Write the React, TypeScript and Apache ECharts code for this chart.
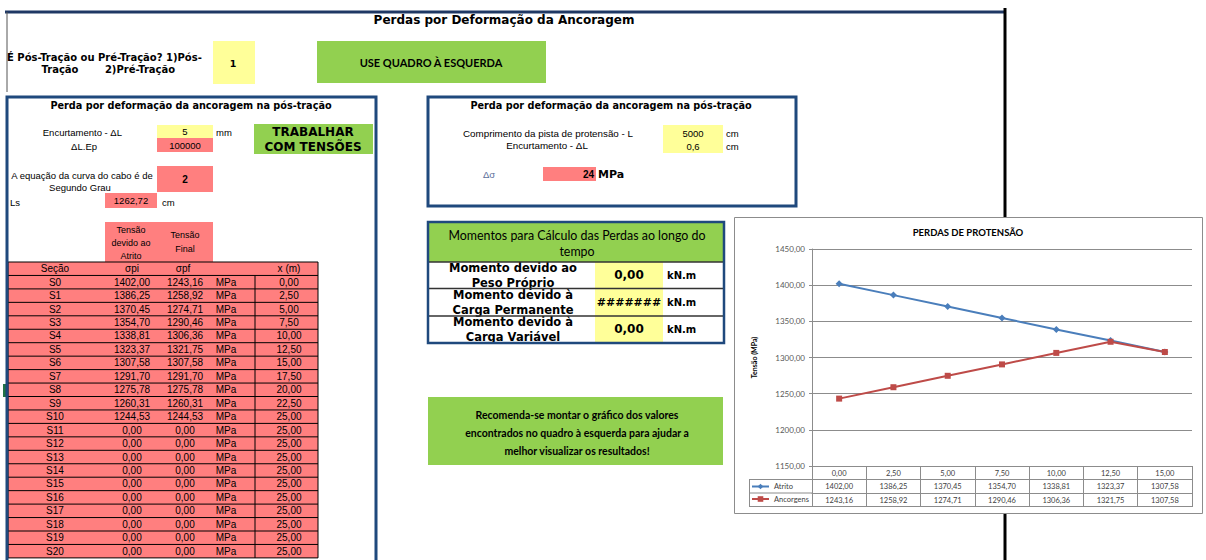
import React, { useEffect, useRef } from "react";
import * as echarts from "echarts";

// ---- chart data ----
const positions = [0, 2.5, 5, 7.5, 10, 12.5, 15];
const atrito = [1402.0, 1386.25, 1370.45, 1354.7, 1338.81, 1323.37, 1307.58];
const ancoragem = [1243.16, 1258.92, 1274.71, 1290.46, 1306.36, 1321.75, 1307.58];
const seriesNames = ["Atrito", "Ancorgens"];
const yMin = 1150;
const yMax = 1450;
const yStep = 50;

// ---- spreadsheet table data ----
const sections = ["S0","S1","S2","S3","S4","S5","S6","S7","S8","S9","S10","S11","S12","S13","S14","S15","S16","S17","S18","S19","S20"];
const sigmaPi = [1402.0,1386.25,1370.45,1354.7,1338.81,1323.37,1307.58,1291.7,1275.78,1260.31,1244.53,0,0,0,0,0,0,0,0,0,0];
const sigmaPf = [1243.16,1258.92,1274.71,1290.46,1306.36,1321.75,1307.58,1291.7,1275.78,1260.31,1244.53,0,0,0,0,0,0,0,0,0,0];
const xMeters = [0,2.5,5,7.5,10,12.5,15,17.5,20,22.5,25,25,25,25,25,25,25,25,25,25,25];

const fmt = (v: number) => v.toFixed(2).replace(".", ",");

const PINK = "#FF7F7F";
const YELLOW = "#FFFF99";
const GREEN = "#92D050";
const NAVY = "#1F497D";
const F_ARIAL = "'Liberation Sans', Arial, sans-serif";
const F_WIDE = "'DejaVu Sans', sans-serif";
const F_CAL = "Lato, 'Open Sans', sans-serif";

function buildGraphic() {
  const G: any[] = [];
  const R = (x: number, y: number, w: number, h: number, fill: string, stroke: string | null = null, lw = 1, z = 0) =>
    G.push({ type: "rect", z, silent: true, shape: { x, y, width: w, height: h }, style: { fill, stroke: stroke || "none", lineWidth: lw } });
  const L = (x1: number, y1: number, x2: number, y2: number, stroke: string, lw = 1, z = 3) =>
    G.push({ type: "line", z, silent: true, shape: { x1, y1, x2, y2 }, style: { stroke, lineWidth: lw } });
  const T = (x: number, y: number, text: string, font: string, align = "center", fill = "#000", z = 5) =>
    G.push({ type: "text", z, silent: true, x, y, style: { text, font, fill, textAlign: align, textVerticalAlign: "middle", verticalAlign: "middle" } });

  const sm = `9.5px ${F_ARIAL}`;

  // page frame
  L(5, 12, 1005, 12, "#1F3864", 3);
  L(7, 12, 7, 92, "#555", 1);
  L(1005, 8, 1005, 217, "#000", 3);
  L(1005, 514, 1005, 560, "#000", 3);
  T(504, 20, "Perdas por Deformação da Ancoragem", `bold 12px ${F_WIDE}`);
  T(7, 57.5, "É Pós-Tração ou Pré-Tração? 1)Pós-", `bold 10px ${F_WIDE}`, "left");
  T(60, 69.5, "Tração", `bold 10px ${F_WIDE}`);
  T(140, 69.5, "2)Pré-Tração", `bold 10px ${F_WIDE}`);
  R(213, 41, 42, 43, YELLOW);
  T(233, 63, "1", `bold 9.5px ${F_WIDE}`);
  R(317, 41, 229, 42, GREEN);
  T(431, 62, "USE QUADRO À ESQUERDA", `bold 11px ${F_CAL}`);

  // left panel
  R(7, 97, 369, 480, "none", NAVY, 3, 6);
  T(191, 105, "Perda por deformação da ancoragem na pós-tração", `bold 9.7px ${F_WIDE}`);
  T(122, 132, "Encurtamento - ΔL", sm, "right");
  R(157, 125, 56, 13, YELLOW);
  T(185, 131.5, "5", `9.5px ${F_ARIAL}`);
  T(216, 132, "mm", sm, "left");
  T(97, 146, "ΔL.Ep", sm, "right");
  R(157, 138, 56, 14, PINK);
  T(185, 145.5, "100000", `9.5px ${F_ARIAL}`);
  R(254, 124, 119, 30, GREEN);
  T(313, 131.5, "TRABALHAR", `bold 12px ${F_WIDE}`);
  T(313, 147, "COM TENSÕES", `bold 12px ${F_WIDE}`);
  T(82, 175, "A equação da curva do cabo é de", sm);
  T(80, 187, "Segundo Grau", sm);
  R(157, 166, 56, 26, PINK);
  T(185, 179, "2", `bold 10px ${F_ARIAL}`);
  T(10, 202, "Ls", sm, "left");
  R(105, 193, 52, 15, PINK);
  T(131, 200.5, "1262,72", `9.5px ${F_ARIAL}`);
  T(162, 202, "cm", sm, "left");
  R(105, 222, 108, 40, PINK);
  T(131, 230, "Tensão", `9px ${F_ARIAL}`);
  T(131, 243, "devido ao", `9px ${F_ARIAL}`);
  T(131, 256, "Atrito", `9px ${F_ARIAL}`, "center", "#000", 1);
  T(185, 235, "Tensão", `9px ${F_ARIAL}`);
  T(185, 249, "Final", `9px ${F_ARIAL}`);

  // section table
  const top = 262, rowH = 13.45, left = 8, right = 318;
  const nRows = sections.length + 1;
  R(left, top, right - left, nRows * rowH, PINK, "#000", 1, 2);
  for (let i = 1; i < nRows; i++) L(left, top + i * rowH, right, top + i * rowH, "#000", 1);
  L(255, top + rowH, 255, top + nRows * rowH, "#000", 1);
  const hy = top + rowH / 2;
  const tf = `10px ${F_ARIAL}`;
  T(55, hy, "Seção", tf);
  T(132, hy, "σpi", tf);
  T(183, hy, "σpf", tf);
  T(289, hy, "x (m)", tf);
  sections.forEach((s, i) => {
    const y = top + (i + 1.5) * rowH;
    T(55, y, s, tf);
    T(132, y, fmt(sigmaPi[i]), tf);
    T(185, y, fmt(sigmaPf[i]), tf);
    T(226, y, "MPa", tf);
    T(289, y, fmt(xMeters[i]), tf);
  });
  R(3, 384, 3, 13, "#217346");

  // middle panel
  R(428, 97, 368, 109, "none", NAVY, 3, 6);
  T(611, 105, "Perda por deformação da ancoragem na pós-tração", `bold 9.7px ${F_WIDE}`);
  T(548, 133, "Comprimento da pista de protensão - L", `9.8px ${F_ARIAL}`);
  T(547, 145.5, "Encurtamento - ΔL", `9.8px ${F_ARIAL}`);
  R(663, 125, 60, 28, YELLOW);
  T(693, 133, "5000", `9.5px ${F_ARIAL}`);
  T(693, 146, "0,6", `9.5px ${F_ARIAL}`);
  T(726, 133, "cm", sm, "left");
  T(726, 146, "cm", sm, "left");
  T(483, 174, "Δσ", sm, "left", "#5B6F9A");
  R(543, 167, 53, 14, PINK);
  T(594, 174, "24", `bold 10px ${F_ARIAL}`, "right");
  T(598, 174, "MPa", `bold 11px ${F_WIDE}`, "left");

  // moments box
  R(428, 222, 296, 40, GREEN);
  R(595, 262, 68, 81, YELLOW);
  T(577, 235, "Momentos para Cálculo das Perdas ao longo do", `12.4px ${F_CAL}`);
  T(577, 251, "tempo", `12.4px ${F_CAL}`);
  const mf = `bold 11.5px ${F_WIDE}`;
  T(513, 268, "Momento devido ao", mf);
  T(513, 283, "Peso Próprio", mf);
  T(513, 295, "Momento devido à", mf);
  T(513, 310, "Carga Permanente", mf);
  T(513, 322, "Momento devido à", mf);
  T(513, 337, "Carga Variável", mf);
  T(629, 275, "0,00", `bold 12px ${F_WIDE}`);
  T(629, 302, "#######", `bold 11px ${F_WIDE}`);
  T(629, 329, "0,00", `bold 12px ${F_WIDE}`);
  T(667, 275, "kN.m", `bold 10px ${F_WIDE}`, "left");
  T(667, 302, "kN.m", `bold 10px ${F_WIDE}`, "left");
  T(667, 329, "kN.m", `bold 10px ${F_WIDE}`, "left");
  L(428, 262, 724, 262, "#333", 1.5, 7);
  L(428, 288.5, 724, 288.5, "#333", 1.5, 7);
  L(428, 316, 724, 316, "#333", 1.5, 7);
  R(428, 222, 296, 121, "none", NAVY, 2.5, 8);

  // recommendation box
  R(428, 397, 295, 68, GREEN);
  const rf = `bold 10.5px ${F_CAL}`;
  T(577, 415, "Recomenda-se montar o gráfico dos valores", rf);
  T(577, 433, "encontrados no quadro à esquerda para ajudar a", rf);
  T(577, 451, "melhor visualizar os resultados!", rf);

  // chart frame + data table legend column
  R(734.5, 217.5, 468, 296, "none", "#8C8C8C", 1);
  T(968, 232, "PERDAS DE PROTENSÃO", `bold 9.5px ${F_CAL}`);
  L(749, 479.5, 812, 479.5, "#8C8C8C", 1);
  L(749, 493, 812, 493, "#8C8C8C", 1);
  L(749, 506.5, 812, 506.5, "#8C8C8C", 1);
  L(749.5, 479.5, 749.5, 506.5, "#8C8C8C", 1);
  return G;
}

export default function App() {
  const ref = useRef<HTMLDivElement>(null);
  useEffect(() => {
    if (!ref.current) return;
    const chart = echarts.init(ref.current, undefined, { renderer: "svg" });
    const cats = positions.map(fmt);
    const axisGrey = "#8C8C8C";
    const lbl = { fontSize: 7.5, color: "#404040", fontFamily: F_CAL, margin: 3, interval: 0 };
    chart.setOption({
      animation: false,
      backgroundColor: "#fff",
      graphic: { elements: buildGraphic() },
      grid: { left: 812, right: 14, top: 249, bottom: 94, containLabel: false },
      legend: {
        orient: "vertical",
        left: 751,
        top: 482.5,
        itemGap: 4.5,
        itemWidth: 17,
        itemHeight: 7,
        padding: 0,
        data: seriesNames,
        textStyle: { fontSize: 7.5, color: "#404040", fontFamily: F_CAL },
      },
      xAxis: [
        {
          type: "category",
          data: cats,
          position: "bottom",
          boundaryGap: true,
          axisLine: { show: true, lineStyle: { color: axisGrey, width: 1 } },
          axisTick: { show: true, length: 41, interval: 0, lineStyle: { color: axisGrey } },
          axisLabel: lbl,
        },
        {
          type: "category",
          data: cats,
          position: "bottom",
          offset: 13.5,
          axisLine: { show: true, lineStyle: { color: axisGrey } },
          axisTick: { show: false },
          axisLabel: { ...lbl, formatter: (_v: string, i: number) => fmt(atrito[i]) },
        },
        {
          type: "category",
          data: cats,
          position: "bottom",
          offset: 27,
          axisLine: { show: true, lineStyle: { color: axisGrey } },
          axisTick: { show: false },
          axisLabel: { ...lbl, formatter: (_v: string, i: number) => fmt(ancoragem[i]) },
        },
        {
          type: "category",
          data: cats,
          position: "bottom",
          offset: 40.5,
          axisLine: { show: true, lineStyle: { color: axisGrey } },
          axisTick: { show: false },
          axisLabel: { show: false },
        },
      ],
      yAxis: {
        type: "value",
        min: yMin,
        max: yMax,
        interval: yStep,
        name: "Tensão (MPa)",
        nameLocation: "middle",
        nameGap: 55,
        nameTextStyle: { fontSize: 7, fontWeight: "bold", color: "#000", fontFamily: F_CAL },
        axisLine: { show: true, lineStyle: { color: axisGrey } },
        axisTick: { show: true, length: 3, lineStyle: { color: axisGrey } },
        axisLabel: { fontSize: 8, color: "#595959", fontFamily: F_CAL, margin: 7, formatter: (v: number) => fmt(v) },
        splitLine: { show: true, lineStyle: { color: axisGrey, width: 1 } },
      },
      series: [
        {
          name: seriesNames[0],
          type: "line",
          data: atrito,
          symbol: "diamond",
          symbolSize: 7,
          lineStyle: { color: "#4A7EBB", width: 2 },
          itemStyle: { color: "#4A7EBB" },
        },
        {
          name: seriesNames[1],
          type: "line",
          data: ancoragem,
          symbol: "rect",
          symbolSize: 6,
          lineStyle: { color: "#BE4B48", width: 2 },
          itemStyle: { color: "#BE4B48" },
        },
      ],
    });
    return () => chart.dispose();
  }, []);
  return <div ref={ref} style={{ position: "absolute", left: 0, top: 0, width: 1206, height: 560 }} />;
}
